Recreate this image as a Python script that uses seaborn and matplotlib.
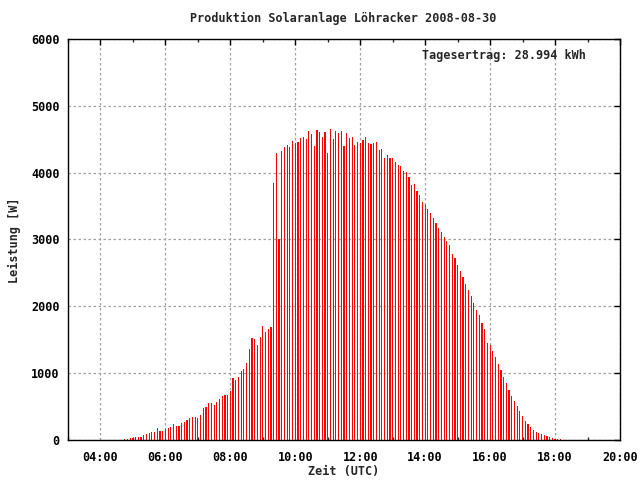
import numpy as np
import pandas as pd
import matplotlib
matplotlib.use('Agg')
import matplotlib.pyplot as plt
import seaborn as sns

# ── Data: power (W) every 5 minutes, first sample 04:45 UTC ──
start_time = "2008-08-30 04:45"
step       = "5min"

power_morning = [   # 04:45 - 08:55
    20, 20, 35, 35, 50, 50, 50, 80, 95, 110, 125, 125, 185, 140, 140,
    170, 185, 200, 245, 215, 215, 260, 275, 305, 335, 350, 350, 335,
    380, 485, 500, 560, 560, 530, 575, 620, 665, 680, 680,
    740, 935, 905, 950, 1025, 1055, 1145, 1355, 1530, 1515, 1425, 1545,
]
power_midday = [    # 09:00 - 12:55
    1710, 1620, 1665, 1695, 3850, 4295, 3005, 4325, 4385, 4415, 4385, 4475,
    4445, 4460, 4520, 4535, 4505, 4625, 4580, 4400, 4640, 4610, 4535, 4610,
    4295, 4655, 4505, 4625, 4595, 4625, 4400, 4595, 4520, 4535, 4415, 4460,
    4445, 4490, 4535, 4445, 4430, 4445, 4460, 4340, 4355, 4220, 4265, 4220,
]
power_afternoon = [ # 13:00 - 18:10
    4220, 4160, 4115, 4100, 4025, 4010, 3935, 3815, 3830, 3725, 3665, 3560,
    3515, 3455, 3395, 3320, 3245, 3170, 3110, 3035, 2975, 2920, 2785, 2725,
    2620, 2530, 2440, 2335, 2245, 2155, 2050, 1945, 1870, 1750, 1660, 1450,
    1420, 1330, 1240, 1140, 1050, 945, 855, 750, 660, 585, 510, 435,
    360, 285, 240, 195, 150, 120, 105, 90, 75, 60, 45, 30,
    20, 15, 15,
]

title      = "Produktion Solaranlage Löhracker 2008-08-30"
annotation = "Tagesertrag: 28.994 kWh"
x_ticks    = [4, 6, 8, 10, 12, 14, 16, 18, 20]
x_labels   = [f"{h:02d}:00" for h in x_ticks]
y_ticks    = [0, 1000, 2000, 3000, 4000, 5000, 6000]

power = power_morning + power_midday + power_afternoon
times = pd.date_range(start_time, periods=len(power), freq=step)
df = pd.DataFrame({
    'stunde'  : times.hour + times.minute / 60.0,
    'leistung': power,
})

# ── Style ─────────────────────────────────────────────────────
sns.set_style('white')
plt.rcParams['font.family'] = ['DejaVu Sans Mono']
plt.rcParams['font.weight'] = 'bold'
FS = 8.5

fig = plt.figure(figsize=(6.4, 4.8), dpi=100)
ax  = fig.add_axes([68/640, 40/480, 552/640, 401/480])

ax.grid(True, which='major', color='#a0a0a0', linestyle=(0, (2, 2)), linewidth=0.9)
ax.set_axisbelow(True)

sns.barplot(data=df, x='stunde', y='leistung', native_scale=True,
            width=0.42, color='#ff0000', saturation=1, linewidth=0,
            errorbar=None, antialiased=False, ax=ax)

ax.set_xlim(3, 20)
ax.set_ylim(0, 6000)
ax.set_xticks(x_ticks)
ax.set_xticklabels(x_labels)
ax.set_xticks(np.arange(3, 21, 1), minor=True)
ax.set_yticks(y_ticks)
ax.set_yticklabels([str(v) for v in y_ticks])
ax.set_xlabel("")
ax.set_ylabel("")

ax.tick_params(axis='both', which='major', direction='in', length=4, width=1,
               top=True, right=True, labelsize=FS, colors='black')
ax.tick_params(axis='x', which='major', pad=8)
ax.tick_params(axis='y', which='major', pad=6)
ax.tick_params(axis='x', which='minor', direction='in', length=2, width=1,
               top=True, bottom=True)
for lbl in ax.get_xticklabels() + ax.get_yticklabels():
    lbl.set_fontweight('bold')

for s in ax.spines.values():
    s.set_visible(True)
    s.set_color('black')
    s.set_linewidth(1)

ax.text(0.938, 0.958, annotation, transform=ax.transAxes, ha='right', va='center',
        fontsize=FS, fontweight='bold')

fig.text(0.537, 1 - 18/480, title, ha='center', va='center',
         fontsize=FS, fontweight='bold')
fig.text(0.537, 1 - 472/480, "Zeit (UTC)", ha='center', va='center',
         fontsize=FS, fontweight='bold')
fig.text(14/640, 0.5, "Leistung [W]", ha='center', va='center', rotation=90,
         fontsize=FS, fontweight='bold')

fig.savefig("out.png", dpi=100, facecolor='white')
